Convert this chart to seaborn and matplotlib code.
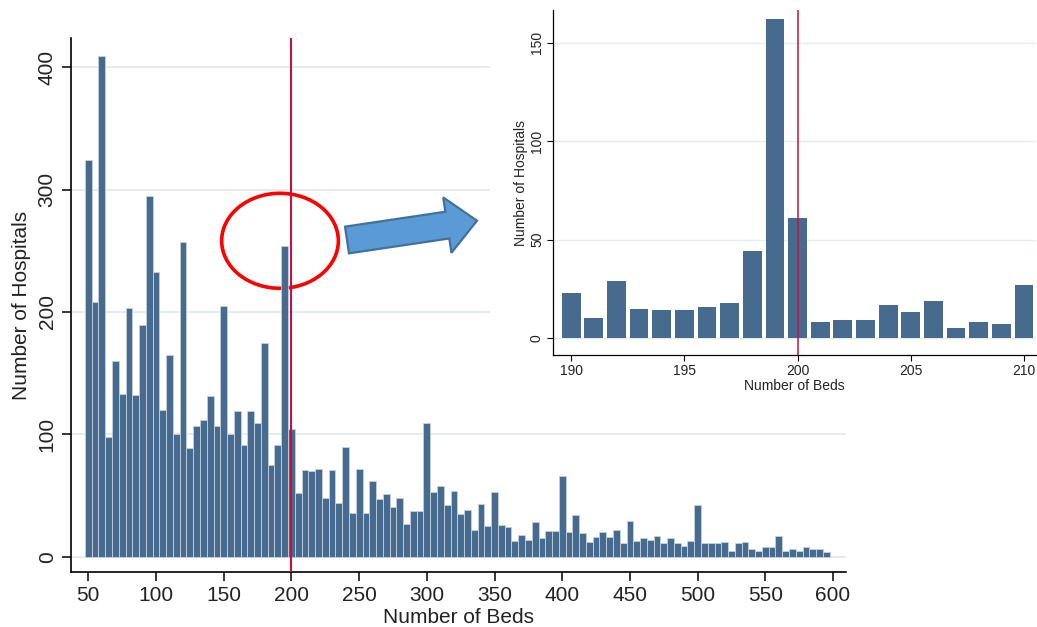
import numpy as np
import pandas as pd
import matplotlib
matplotlib.use("Agg")
import matplotlib.pyplot as plt
from matplotlib.patches import Ellipse, FancyArrow, Rectangle
import seaborn as sns

# Hospitals per 5-bed bin (bin start = number of beds)
bed_bins = np.arange(50, 600, 5)
hospitals_per_bin = [
    324, 208, 409, 98, 160, 133, 203, 132, 189, 295,   # 50-95
    233, 120, 165, 100, 257, 89, 107, 112, 131, 107,   # 100-145
    205, 100, 119, 91, 119, 109, 175, 75, 91, 254,     # 150-195
    104, 52, 71, 70, 72, 48, 71, 44, 90, 36,           # 200-245
    72, 36, 62, 47, 51, 41, 48, 27, 37, 37,            # 250-295
    109, 53, 58, 42, 54, 35, 38, 22, 43, 25,           # 300-345
    53, 26, 24, 13, 18, 14, 28, 15, 21, 21,            # 350-395
    66, 20, 34, 19, 12, 16, 20, 16, 22, 11,            # 400-445
    29, 13, 15, 14, 17, 11, 15, 11, 9, 13,             # 450-495
    42, 11, 11, 11, 12, 5, 11, 12, 6, 5,               # 500-545
    8, 8, 17, 5, 6, 5, 8, 6, 6, 4,                     # 550-595
]

# Hospitals per single bed count around the 200-bed threshold
zoom_beds = list(range(190, 211))
zoom_hospitals = [23, 10, 29, 15, 14, 14, 16, 18, 44, 162, 61,
                  8, 9, 9, 17, 13, 19, 5, 8, 7, 27]

threshold = 200
main_ticks_x = [50, 100, 150, 200, 250, 300, 350, 400, 450, 500, 550, 600]
main_ticks_y = [0, 100, 200, 300, 400]
zoom_ticks_x = [190, 195, 200, 205, 210]
zoom_ticks_y = [0, 50, 100, 150]

main_df = pd.DataFrame({"beds": bed_bins, "n": hospitals_per_bin})
zoom_df = pd.DataFrame({"beds": zoom_beds, "n": zoom_hospitals})

sns.set_theme(style="white")
plt.rcParams["font.family"] = ["Liberation Sans", "DejaVu Sans"]

BAR = "#476b8e"
GRID = "#e4ecee"
RED_LINE = "#c8103c"

W, H, DPI = 1037, 627, 100
fig = plt.figure(figsize=(W / DPI, H / DPI), dpi=DPI)
fig.patch.set_facecolor("white")
inch = fig.dpi_scale_trans


def px_axes(left, top, right, bottom):
    return [left / W, (H - bottom) / H, (right - left) / W, (bottom - top) / H]


# ---- main histogram ----
ax = fig.add_axes(px_axes(71, 38, 846, 572))
sns.histplot(data=main_df, x="beds", weights="n",
             binwidth=5, binrange=(47.5, 597.5), ax=ax,
             color=BAR, alpha=1, edgecolor="#c3d1dc", linewidth=0.6,
             zorder=2)
ax.set_xlim(37.2, 609.6)
ax.set_ylim(-12.5, 423.8)
ax.set_xticks(main_ticks_x)
ax.set_yticks(main_ticks_y)
ax.grid(axis="y", color=GRID, linewidth=1.4, zorder=0)
ax.grid(axis="x", visible=False)
ax.set_axisbelow(True)
ax.axvline(threshold, color=RED_LINE, linewidth=1.5, zorder=3)
for side in ("top", "right"):
    ax.spines[side].set_visible(False)
for side in ("left", "bottom"):
    ax.spines[side].set_color("black")
    ax.spines[side].set_linewidth(1.2)
ax.tick_params(axis="both", which="major", length=6.5, width=1.1,
               color="black", labelsize=15, labelcolor="#222222",
               left=True, bottom=True, pad=3.8)
for lbl in ax.get_yticklabels():
    lbl.set_rotation(90)
    lbl.set_va("center")
ax.set_xlabel("Number of Beds", fontsize=15, color="#222222", labelpad=2)
ax.set_ylabel("Number of Hospitals", fontsize=15, color="#222222", labelpad=5)

# circle around the spike just below the threshold (behind the bars)
ax.add_patch(Ellipse((2.80, (H - 240.8) / DPI), 1.167, 0.95,
                     transform=inch, fill=False, edgecolor="#ff0000",
                     linewidth=2.6, zorder=1.9, clip_on=False))

# white panel behind the close-up
fig.add_artist(Rectangle((490 / W, (H - 400) / H), 1 - 490 / W, 400 / H,
                         transform=fig.transFigure, facecolor="white",
                         edgecolor="none", zorder=1))

# ---- close-up around 200 beds ----
ax2 = fig.add_axes(px_axes(553, 10, 1036, 355), zorder=2)
sns.histplot(data=zoom_df, x="beds", weights="n", discrete=True,
             shrink=0.83, ax=ax2, color=BAR, alpha=1,
             edgecolor="none", linewidth=0, zorder=2)
ax2.set_xlim(189.2, 210.53)
ax2.set_ylim(-8.6, 166.5)
ax2.set_xticks(zoom_ticks_x)
ax2.set_yticks(zoom_ticks_y)
ax2.grid(axis="y", color=GRID, linewidth=1.0, zorder=0)
ax2.grid(axis="x", visible=False)
ax2.set_axisbelow(True)
ax2.axvline(threshold, color=RED_LINE, linewidth=1.1, zorder=3)
for side in ("top", "right"):
    ax2.spines[side].set_visible(False)
for side in ("left", "bottom"):
    ax2.spines[side].set_color("black")
    ax2.spines[side].set_linewidth(0.9)
ax2.tick_params(axis="both", which="major", length=4.5, width=0.8,
                color="black", labelsize=10, labelcolor="#222222",
                left=True, bottom=True, pad=2)
for lbl in ax2.get_yticklabels():
    lbl.set_rotation(90)
    lbl.set_va("center")
ax2.set_xlabel("Number of Beds", fontsize=10, color="#222222", labelpad=1)
ax2.set_ylabel("Number of Hospitals", fontsize=10, color="#222222", labelpad=1.5)

# ---- arrow pointing from the circled spike to the close-up ----
fig.add_artist(FancyArrow(3.47, (H - 240) / DPI, 1.30, 0.193,
                          width=0.27, head_width=0.56, head_length=0.30,
                          length_includes_head=True, transform=inch,
                          facecolor="#5b9bd5", edgecolor="#41719c",
                          linewidth=1.6, zorder=4))

fig.savefig("out.png", dpi=DPI, facecolor="white")
